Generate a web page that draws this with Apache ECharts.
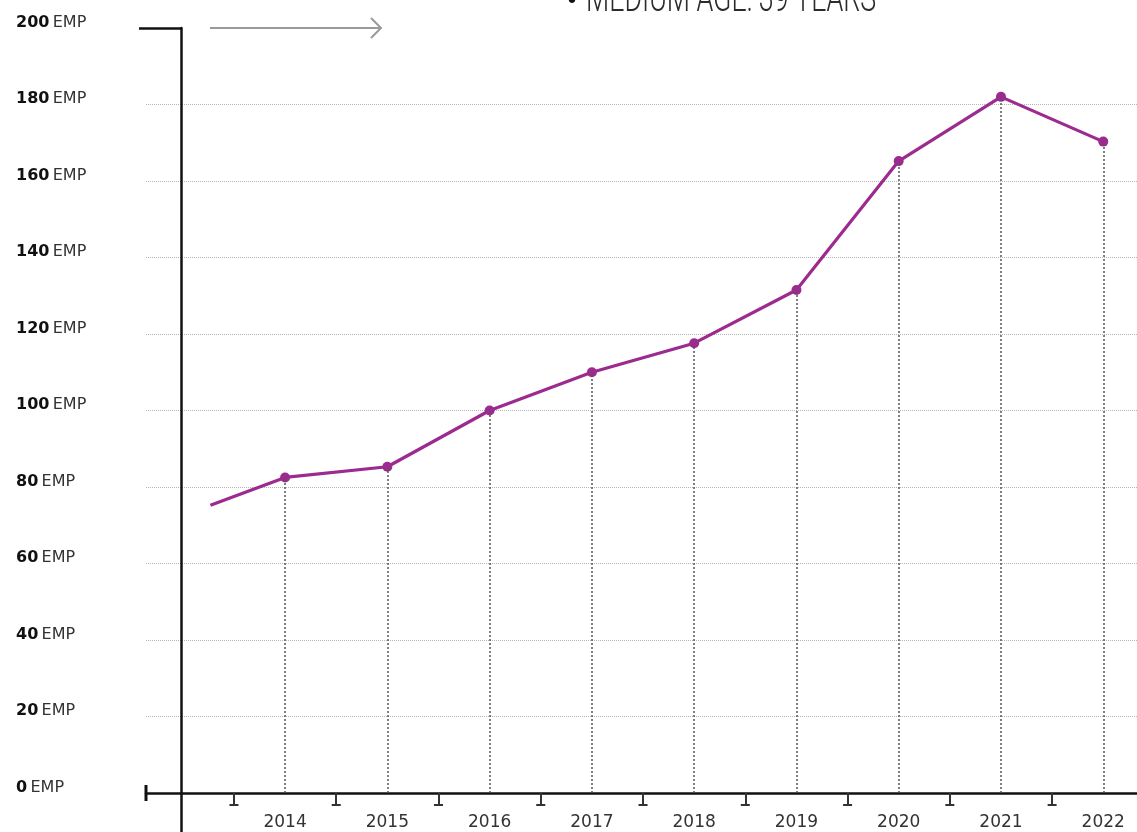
<!DOCTYPE html>
<html>
<head>
<meta charset="utf-8">
<script src="https://cdn.jsdelivr.net/npm/echarts@6/dist/echarts.min.js"></script>
<style>
    html, body { margin: 0; padding: 0; background: #fff; }
    #chart { width: 1137px; height: 832px; }
</style>
</head>
<body>
<div id="chart"></div>
<script>
    // data
    var years = [2014, 2015, 2016, 2017, 2018, 2019, 2020, 2021, 2022];
    var employees = [82.5, 85.3, 100, 110, 117.6, 131.5, 165.2, 182, 170.3];
    // line comes in from the left, cut before 2014
    var leadIn = [2013.27, 75.2];
    var midTicks = [2013.5, 2014.5, 2015.5, 2016.5, 2017.5, 2018.5, 2019.5, 2020.5, 2021.5];
    var headline = 'MEDIUM AGE: 39 YEARS';

    var xMin = 2012.64, xMax = 2022.33;
    var purple = '#9c2a8f';

    var lineData = [{value: leadIn, symbol: 'none'}];
    years.forEach(function (y, i) {
        lineData.push([y, employees[i]]);
    });

    var dropLines = years.map(function (y, i) {
        return [{coord: [y, 0]}, {coord: [y, employees[i]]}];
    });

    var chart = echarts.init(document.getElementById('chart'));
    var option = {
        animation: false,
        grid: {left: 146, right: 0, top: 28, bottom: 39},
        xAxis: [
            {
                type: 'value',
                min: xMin,
                max: xMax,
                splitLine: {show: false},
                axisLine: {
                    show: true,
                    symbol: ['rect', 'none'],
                    symbolSize: [16, 3],
                    lineStyle: {color: '#111', width: 2.5}
                },
                axisTick: {
                    show: true,
                    customValues: midTicks,
                    length: 12,
                    lineStyle: {color: '#333', width: 2}
                },
                axisLabel: {
                    customValues: years,
                    margin: 21,
                    fontFamily: 'DejaVu Sans',
                    fontSize: 17,
                    color: '#333',
                    formatter: function (v) { return String(Math.round(v)); }
                }
            },
            {
                // feet of the little tick marks
                type: 'value',
                min: xMin,
                max: xMax,
                position: 'bottom',
                splitLine: {show: false},
                axisLine: {show: false},
                axisTick: {show: false},
                axisLabel: {
                    customValues: midTicks,
                    margin: 11,
                    formatter: function () { return '{f| }'; },
                    rich: {
                        f: {width: 9, height: 2, lineHeight: 2, fontSize: 1, backgroundColor: '#333'}
                    }
                }
            },
            {
                // vertical axis running on below the baseline
                type: 'value',
                min: xMin,
                max: xMax,
                position: 'bottom',
                splitLine: {show: false},
                axisLine: {show: false},
                axisLabel: {show: false},
                axisTick: {
                    show: true,
                    customValues: [2012.98],
                    length: 40,
                    lineStyle: {color: '#111', width: 2.5}
                }
            }
        ],
        yAxis: [
            {
                type: 'value',
                min: 0,
                max: 200,
                interval: 20,
                axisLine: {show: false},
                axisTick: {show: false},
                splitLine: {
                    show: true,
                    showMinLine: false,
                    showMaxLine: false,
                    lineStyle: {color: '#b5b5b5', type: 'dotted', width: 1}
                },
                axisLabel: {
                    align: 'left',
                    margin: 130,
                    padding: [0, 0, 11, 0],
                    formatter: function (v) { return '{b|' + v + '} {r|EMP}'; },
                    rich: {
                        b: {fontFamily: 'DejaVu Sans', fontWeight: 'bold', fontSize: 16, color: '#111'},
                        r: {fontFamily: 'DejaVu Sans', fontSize: 16, color: '#333'}
                    }
                }
            },
            {
                type: 'value',
                min: 0,
                max: 200,
                position: 'left',
                offset: -35,
                splitLine: {show: false},
                axisLabel: {show: false},
                axisLine: {show: true, lineStyle: {color: '#111', width: 2.5}},
                axisTick: {
                    show: true,
                    customValues: [200],
                    length: 42,
                    lineStyle: {color: '#111', width: 2.5}
                }
            }
        ],
        graphic: [
            {
                type: 'text',
                x: 572,
                y: 2,
                silent: true,
                style: {
                    text: '•',
                    font: '22px "DejaVu Sans"',
                    fill: '#111',
                    align: 'center',
                    verticalAlign: 'middle'
                }
            },
            {
                // headline, cut by the top edge, in a narrow light face
                type: 'text',
                x: 586,
                y: 1,
                scaleX: 0.67,
                silent: true,
                style: {
                    text: headline,
                    font: '300 40px Roboto',
                    fill: '#2b2b2b',
                    align: 'left',
                    verticalAlign: 'middle'
                }
            },
            {
                type: 'group',
                silent: true,
                children: [
                    {type: 'line', shape: {x1: 210, y1: 28, x2: 381, y2: 28}, style: {stroke: '#9a9a9a', lineWidth: 2}},
                    {type: 'polyline', shape: {points: [[371, 18], [381, 28], [371, 38]]}, style: {stroke: '#9a9a9a', lineWidth: 2, fill: null}}
                ]
            }
        ],
        series: [
            {
                type: 'line',
                data: lineData,
                symbol: 'circle',
                symbolSize: 10,
                lineStyle: {color: purple, width: 3.2},
                itemStyle: {color: purple},
                z: 3,
                markLine: {
                    silent: true,
                    symbol: 'none',
                    label: {show: false},
                    lineStyle: {color: '#555', type: [2, 2], width: 1.5},
                    data: dropLines
                }
            }
        ]
    };
    chart.setOption(option);
</script>
</body>
</html>
